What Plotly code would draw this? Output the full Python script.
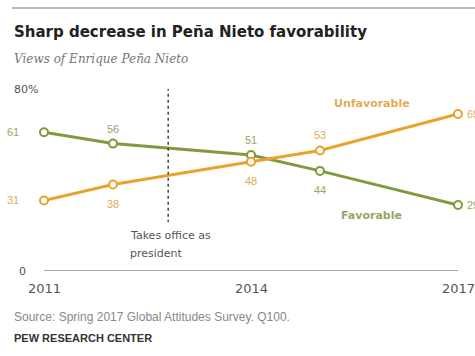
import plotly.graph_objects as go

years = [2011, 2012, 2014, 2015, 2017]
favorable = [61, 56, 51, 44, 29]
unfavorable = [31, 38, 48, 53, 69]
fav_label_pos = ["left", "above", "above", "below", "right"]
unf_label_pos = ["left", "below", "below", "above", "right"]
office_year = 2012.8
tick_years = [2011, 2014, 2017]

GREEN = "#7f9b3c"
ORANGE = "#e8a32e"
GREEN_TXT = "#93a862"
ORANGE_TXT = "#e4aa55"
FONT = "Liberation Sans, Arial, sans-serif"
DJ = "DejaVu Sans, sans-serif"

W, H = 475, 356
L, R, T, B = 44, 17, 89, 85
PW, PH = W - L - R, H - T - B


def pxx(x):
    return (x - L) / PW


def pxy(y):
    return (H - B - y) / PH


fig = go.Figure()
fig.add_trace(go.Scatter(x=years, y=favorable, mode="lines+markers",
                         line=dict(color=GREEN, width=3),
                         marker=dict(size=8, color="white", line=dict(color=GREEN, width=2)),
                         cliponaxis=False, showlegend=False))
fig.add_trace(go.Scatter(x=years, y=unfavorable, mode="lines+markers",
                         line=dict(color=ORANGE, width=3),
                         marker=dict(size=8, color="white", line=dict(color=ORANGE, width=2)),
                         cliponaxis=False, showlegend=False))

ann = []


def add_labels(vals, pos, color):
    for x, v, p in zip(years, vals, pos):
        xs, ys, xa = 0, 0, "center"
        if p == "left":
            xs = -31
        elif p == "right":
            xs = 7
            xa = "left"
        elif p == "above":
            ys = 15
        else:
            ys = -19
        ann.append(dict(x=x, y=v, xref="x", yref="y", text=str(v), showarrow=False,
                        xshift=xs, yshift=ys, xanchor=xa,
                        font=dict(family=FONT, size=11, color=color)))


add_labels(favorable, fav_label_pos, GREEN_TXT)
add_labels(unfavorable, unf_label_pos, ORANGE_TXT)

ann.append(dict(x=2015.75, y=73.7, xref="x", yref="y", text="<b>Unfavorable</b>", showarrow=False,
                font=dict(family=DJ, size=11, color=ORANGE_TXT)))
ann.append(dict(x=2015.75, y=24.5, xref="x", yref="y", text="<b>Favorable</b>", showarrow=False,
                font=dict(family=DJ, size=11, color=GREEN_TXT)))
for i, line in enumerate(["Takes office as", "president"]):
    ann.append(dict(x=office_year, y=15.5 - i * 7.9, xref="x", yref="y", xanchor="left",
                    yanchor="middle", xshift=-40, text=line, showarrow=False,
                    font=dict(family=DJ, size=11, color="#555")))

for ty in tick_years:
    ann.append(dict(x=ty, y=0, xref="x", yref="y", text=str(ty), showarrow=False,
                    yanchor="middle", yshift=-17,
                    font=dict(family=DJ, size=13, color="#555")))
ann.append(dict(x=pxx(12), y=80, xref="paper", yref="y", text="80%", showarrow=False,
                xanchor="left", yanchor="middle", font=dict(family=DJ, size=11, color="#555")))
ann.append(dict(x=pxx(28), y=0, xref="paper", yref="y", text="0", showarrow=False,
                xanchor="right", yanchor="middle", font=dict(family=DJ, size=11, color="#555")))

for text, x, y, size, color, fam in [
    ("<b>Sharp decrease in Peña Nieto favorability</b>", 12, 32, 15, "#222", DJ),
    ("<i>Views of Enrique Peña Nieto</i>", 12, 59, 12, "#777", "DejaVu Serif, serif"),
    ("Source: Spring 2017 Global Attitudes Survey. Q100.", 12, 317, 12, "#888", FONT),
    ("<b>PEW RESEARCH CENTER</b>", 12, 338, 11, "#333", FONT),
]:
    ann.append(dict(x=pxx(x), y=pxy(y), xref="paper", yref="paper", text=text, showarrow=False,
                    xanchor="left", yanchor="middle", font=dict(family=fam, size=size, color=color)))

shapes = [
    dict(type="line", xref="x", yref="y", x0=2011, x1=2017, y0=0, y1=0,
         line=dict(color="#888", width=1.5)),
    dict(type="line", xref="x", yref="y", x0=office_year, x1=office_year, y0=80.5, y1=21.5,
         line=dict(color="#444", width=1.5, dash="3px,3px")),
    dict(type="line", xref="paper", yref="paper", x0=pxx(12), x1=pxx(475), y0=pxy(8), y1=pxy(8),
         line=dict(color="#bbb", width=2)),
]

fig.update_layout(
    width=W, height=H,
    margin=dict(l=L, r=R, t=T, b=B),
    paper_bgcolor="white", plot_bgcolor="white",
    xaxis=dict(range=[2011, 2017], visible=False, fixedrange=True),
    yaxis=dict(range=[0, 80], visible=False, fixedrange=True),
    annotations=ann, shapes=shapes,
    font=dict(family=FONT),
)
fig.write_html("out.html")
